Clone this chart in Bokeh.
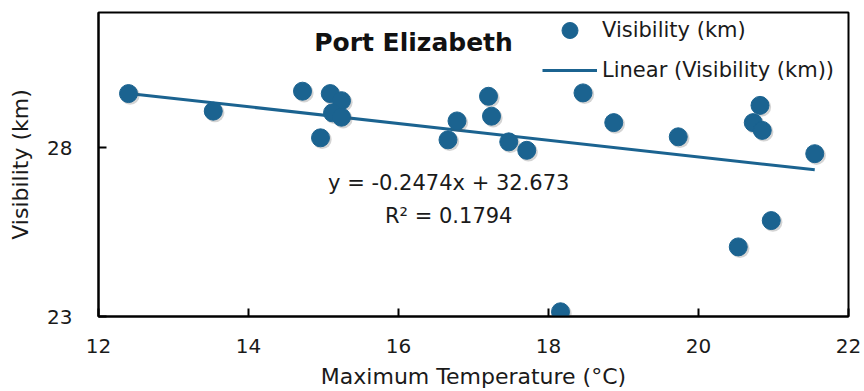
from bokeh.plotting import figure
from bokeh.models import ColumnDataSource, Range1d, Label, Legend, LegendItem, FixedTicker
from bokeh.transform import dodge
from bokeh.embed import file_html
from bokeh.resources import INLINE

# Port Elizabeth: daily maximum temperature vs visibility
max_temp = [12.40, 13.53, 14.72, 15.09, 15.24, 15.12, 15.24, 14.96, 16.78, 16.66,
            17.20, 17.24, 17.47, 17.71, 18.46, 18.87, 19.73, 20.82, 20.73, 20.85,
            21.55, 20.97, 20.53, 18.16]
visibility = [29.60, 29.08, 29.67, 29.60, 29.39, 29.03, 28.90, 28.29, 28.79, 28.23,
              29.52, 28.93, 28.17, 27.92, 29.62, 28.74, 28.32, 29.25, 28.74, 28.51,
              27.82, 25.84, 25.06, 23.14]

# linear trendline (from the fitted equation)
trend_slope = -0.2474
trend_intercept = 32.673
r_squared = 0.1794

x_ticks = [12, 14, 16, 18, 20, 22]
y_ticks = [23, 28]

BLUE = "#1B6390"
FONT = "DejaVu Sans"
TEXT = "#1a1a1a"

src = ColumnDataSource(dict(x=max_temp, y=visibility))

p = figure(width=864, height=391, output_backend="svg", toolbar_location=None,
           x_range=Range1d(12, 22), y_range=Range1d(23, 32),
           min_border_left=98, min_border_right=16, min_border_top=12,
           min_border_bottom=74)

p.grid.visible = False
p.outline_line_color = "black"
p.outline_line_width = 2
p.background_fill_color = "white"
p.border_fill_color = "white"

for ax in (p.xaxis[0], p.yaxis[0]):
    ax.axis_line_color = "black"
    ax.axis_line_width = 2
    ax.major_tick_line_color = "black"
    ax.major_tick_line_width = 2
    ax.major_tick_in = 8
    ax.major_tick_out = 0
    ax.minor_tick_line_color = None
    ax.major_label_text_font = FONT
    ax.major_label_text_font_size = "20px"
    ax.major_label_text_color = TEXT
    ax.axis_label_text_font = FONT
    ax.axis_label_text_font_size = "22px"
    ax.axis_label_text_font_style = "normal"
    ax.axis_label_text_color = TEXT

p.xaxis.ticker = FixedTicker(ticks=x_ticks)
p.yaxis.ticker = FixedTicker(ticks=y_ticks)
p.xaxis.major_label_standoff = 22
p.yaxis.major_label_standoff = 26
p.xaxis.axis_label = "Maximum Temperature (°C)"
p.yaxis.axis_label = "Visibility (km)"
p.xaxis.axis_label_standoff = 8
p.yaxis.axis_label_standoff = 11

# trendline across the observed temperature range
x0, x1 = min(max_temp), max(max_temp)
trend = p.line([x0, x1],
               [trend_slope * x0 + trend_intercept, trend_slope * x1 + trend_intercept],
               line_color=BLUE, line_width=3)

# soft drop shadow under the markers
p.scatter(dodge("x", 0.022), dodge("y", -0.05), source=src, size=19,
          fill_color="#555555", fill_alpha=0.25, line_color=None)
pts = p.scatter("x", "y", source=src, size=18, fill_color=BLUE, line_color=BLUE)

legend = Legend(items=[LegendItem(label="Visibility (km)", renderers=[pts]),
                       LegendItem(label="Linear (Visibility (km))", renderers=[trend])],
                location=(444, 226), orientation="vertical",
                glyph_width=55, glyph_height=40, spacing=-1, padding=0, margin=0,
                label_standoff=5, label_text_font=FONT, label_text_font_size="21px",
                label_text_color=TEXT, border_line_color=None,
                background_fill_alpha=0)
p.add_layout(legend)

p.add_layout(Label(x=16.2, y=31.1, text="Port Elizabeth", text_font=FONT,
                   text_font_size="25px", text_font_style="bold",
                   text_align="center", text_baseline="middle", text_color="#111111"))
p.add_layout(Label(x=16.67, y=26.95,
                   text=f"y = {trend_slope}x + {trend_intercept}",
                   text_font=FONT, text_font_size="21px", text_align="center",
                   text_baseline="middle", text_color=TEXT))
p.add_layout(Label(x=16.67, y=25.97, text=f"R² = {r_squared}",
                   text_font=FONT, text_font_size="21px", text_align="center",
                   text_baseline="middle", text_color=TEXT))

open("out.html", "w").write(file_html(p, INLINE))
